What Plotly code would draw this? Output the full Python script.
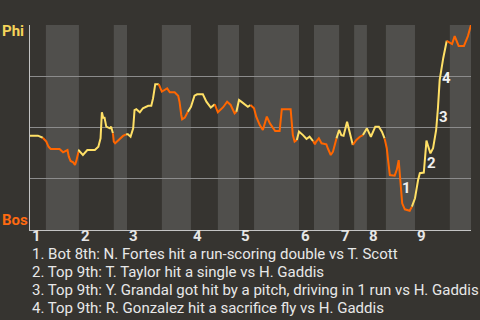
import plotly.graph_objects as go

# Game progress (0-100) and Phillies win probability
progress = [0, 1.8, 2.9, 3.7, 4.2, 4.7, 6.7, 7.5, 8.0, 8.5, 8.8, 9.2, 9.8, 10.2, 10.5, 11.0,
            11.1, 12.0, 13.0, 14.7, 15.5, 16.0, 16.3, 16.6, 16.9, 17.3, 18.1, 18.4, 18.8,
            19.0, 19.3, 20.1, 21.1, 21.8, 22.2, 22.8, 23.4, 23.7, 24.1, 24.9, 25.6, 26.8,
            27.5, 27.9, 28.4, 29.2, 29.9, 30.5, 31.1, 31.7, 32.8, 33.6, 33.9, 34.3, 34.5,
            35.1, 35.8, 36.5, 37.3, 37.9, 39.2, 40.0, 41.0, 41.9, 42.6, 43.8, 44.7, 45.5,
            46.4, 46.8, 47.4, 47.9, 49.4, 50.0, 50.8, 51.3, 52.1, 52.8, 53.2, 53.7, 54.4,
            55.1, 55.6, 56.6, 57.1, 59.1, 59.6, 60.0, 60.5, 61.0, 61.9, 62.7, 63.4, 64.2,
            64.6, 64.9, 65.5, 66.1, 67.2, 67.6, 68.2, 68.7, 69.5, 70.1, 70.6, 71.1, 71.9,
            72.3, 73.2, 74.0, 74.8, 75.5, 76.4, 77.3, 78.3, 79.1, 79.8, 80.4, 80.9, 81.2,
            81.6, 82.7, 83.2, 83.6, 83.8, 84.2, 84.4, 85.0, 86.1, 86.6, 87.3, 88.0, 88.4,
            89.3, 89.9, 90.2, 90.8, 91.4, 92.1, 92.5, 92.9, 93.7, 94.2, 94.5, 95.2, 95.7,
            96.3, 97.2, 98.4, 99.3, 100]
phi_wp = [0.460, 0.460, 0.450, 0.431, 0.406, 0.395, 0.395, 0.379, 0.385, 0.390, 0.358, 0.337,
          0.330, 0.317, 0.337, 0.382,
          0.387, 0.366, 0.390, 0.390, 0.406, 0.447, 0.574, 0.548, 0.548, 0.504, 0.496, 0.504,
          0.472, 0.431, 0.423, 0.439, 0.459, 0.467, 0.467, 0.455, 0.496, 0.585, 0.589, 0.574,
          0.594, 0.606, 0.606, 0.642, 0.711, 0.711, 0.675, 0.683, 0.691, 0.672, 0.672, 0.655,
          0.626, 0.561, 0.540, 0.548, 0.577, 0.601, 0.655, 0.662, 0.662, 0.626, 0.597, 0.613,
          0.574, 0.599, 0.626, 0.610, 0.569, 0.577, 0.634, 0.626, 0.601, 0.610, 0.594, 0.553,
          0.512, 0.488, 0.512, 0.553, 0.520, 0.496, 0.483, 0.483, 0.589, 0.589, 0.463, 0.431,
          0.439, 0.480, 0.463, 0.444, 0.455, 0.434, 0.418, 0.431, 0.447, 0.423, 0.418, 0.395,
          0.366, 0.382, 0.447, 0.488, 0.463, 0.460, 0.528, 0.488, 0.415, 0.439, 0.455, 0.463,
          0.496, 0.455, 0.504, 0.504, 0.480, 0.447, 0.399, 0.341, 0.268, 0.265, 0.296, 0.341,
          0.284, 0.179, 0.130, 0.101, 0.094, 0.114, 0.155, 0.244, 0.277, 0.280, 0.436, 0.415,
          0.374, 0.399, 0.488, 0.594, 0.732, 0.838, 0.894, 0.923, 0.914, 0.907, 0.946, 0.898,
          0.898, 0.946, 1.0]

# Half-inning boundaries (game progress)
half_bounds = [0, 3.6, 11.1, 19.0, 22.0, 29.9, 36.5, 42.6, 47.4, 50.8, 61.0, 64.4,
               70.1, 73.5, 76.4, 80.7, 87.3, 95.2, 100]
innings = ["1", "2", "3", "4", "5", "6", "7", "8", "9"]

# Key plays: label number, label position
key_labels = ["1", "2", "3", "4"]
key_x = [85.3, 91.0, 93.7, 94.4]
key_y = [0.203, 0.328, 0.553, 0.740]
key_text = [
    "1. Bot 8th: N. Fortes hit a run-scoring double vs T. Scott",
    "2. Top 9th: T. Taylor hit a single vs H. Gaddis",
    "3. Top 9th: Y. Grandal got hit by a pitch, driving in 1 run vs H. Gaddis",
    "4. Top 9th: R. Gonzalez hit a sacrifice fly vs H. Gaddis",
]

BG = "#363430"
BAND = "#504f4c"
YEL = "#ffe066"
ORG = "#ff6600"
FONT = "Roboto"

fig = go.Figure()

shapes = []
for i in range(len(half_bounds) - 1):
    if i % 2 == 1:
        shapes.append(dict(type="rect", xref="x", yref="paper", x0=half_bounds[i],
                           x1=half_bounds[i + 1], y0=0, y1=1, fillcolor=BAND,
                           line=dict(width=0), layer="below"))

for i in range(len(half_bounds) - 1):
    lo, hi = half_bounds[i], half_bounds[i + 1]
    last = i == len(half_bounds) - 2
    idx = [k for k, x in enumerate(progress) if x >= lo and (x < hi or (last and x <= hi))]
    if not idx:
        continue
    if idx[0] > 0:
        idx = [idx[0] - 1] + idx
    fig.add_trace(go.Scatter(
        x=[progress[k] for k in idx], y=[phi_wp[k] for k in idx], mode="lines",
        line=dict(color=YEL if i % 2 == 0 else ORG, width=2),
        hoverinfo="skip", showlegend=False))

annotations = []
for j, inn in enumerate(innings):
    annotations.append(dict(x=half_bounds[2 * j], y=0, xref="x", yref="paper",
                            text="<b>%s</b>" % inn, showarrow=False, xanchor="left",
                            yanchor="top", yshift=5,
                            font=dict(family=FONT, size=15, color="#e6e6e6")))
for lab, x, y in zip(key_labels, key_x, key_y):
    annotations.append(dict(x=x, y=y, xref="x", yref="y", text="<b>%s</b>" % lab,
                            showarrow=False, font=dict(family=FONT, size=15, color="#f0f0f0")))
for j, t in enumerate(key_text):
    annotations.append(dict(x=0, y=0, xref="paper", yref="paper", text=t, showarrow=False,
                            xanchor="left", yanchor="middle", yshift=-24 - 18 * j,
                            font=dict(family=FONT, size=15, color="#e8e8e8")))
annotations.append(dict(x=-30 / 441, y=1, xref="paper", yref="paper", text="<b>Phi</b>",
                        showarrow=False, xanchor="left", yanchor="middle", yshift=-6,
                        font=dict(family=FONT, size=15, color="#f5d45a")))
annotations.append(dict(x=-30 / 441, y=0, xref="paper", yref="paper", text="<b>Bos</b>",
                        showarrow=False, xanchor="left", yanchor="middle", yshift=10,
                        font=dict(family=FONT, size=15, color="#ff6a10")))

fig.update_layout(
    width=480, height=320, autosize=False,
    margin=dict(l=30, r=9, t=25, b=90),
    paper_bgcolor=BG, plot_bgcolor=BG,
    shapes=shapes, annotations=annotations,
    xaxis=dict(range=[0, 100], showgrid=False, zeroline=False, showticklabels=False,
               ticks="", showline=True, linecolor="#c4c4c4", linewidth=1, fixedrange=True),
    yaxis=dict(range=[0, 1], tickvals=[0.25, 0.5, 0.75, 1.0], showgrid=True,
               gridcolor="#8c8c8c", gridwidth=1, zeroline=False, showticklabels=False,
               ticks="", showline=True, linecolor="#c4c4c4", linewidth=1, fixedrange=True),
)

fig.write_html("out.html", config={"displayModeBar": False})
